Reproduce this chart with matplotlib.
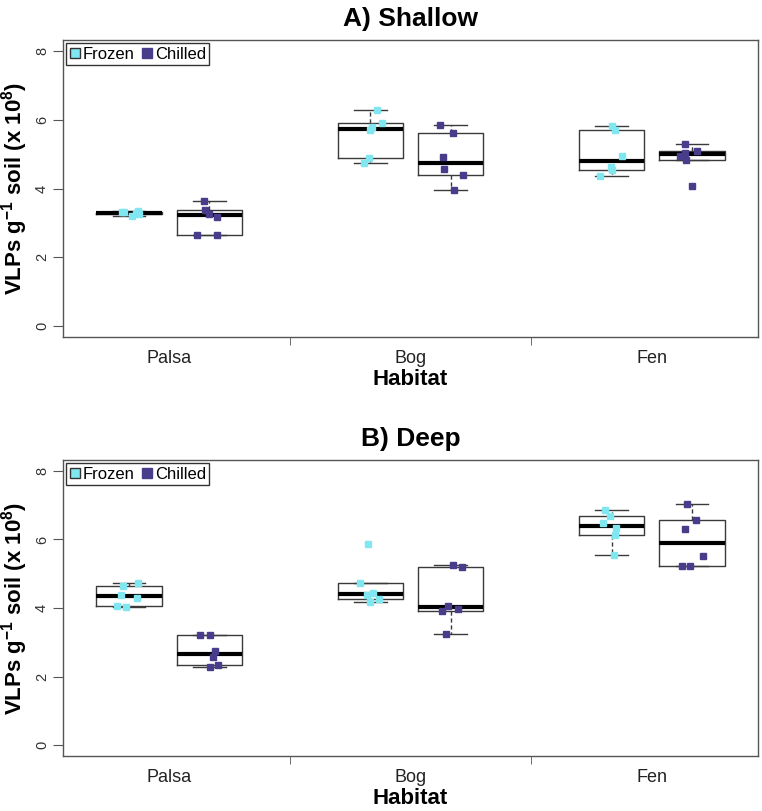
import numpy as np
import matplotlib
matplotlib.use("Agg")
import matplotlib.pyplot as plt
from matplotlib.lines import Line2D

plt.rcParams['font.family'] = ['Liberation Sans', 'DejaVu Sans']
plt.rcParams['mathtext.fontset'] = 'custom'
plt.rcParams['mathtext.bf'] = 'Liberation Sans:bold'
plt.rcParams['mathtext.rm'] = 'Liberation Sans'

habitats = ["Palsa", "Bog", "Fen"]
treatments = ["Frozen", "Chilled"]

# Shallow (A) values, VLPs g-1 soil (x 10^8)
shallow_palsa_frozen = [3.21, 3.25, 3.28, 3.31, 3.33, 3.36]
shallow_palsa_chilled = [2.64, 2.66, 3.18, 3.25, 3.38, 3.65]
shallow_bog_frozen = [4.75, 4.89, 5.70, 5.78, 5.92, 6.28]
shallow_bog_chilled = [3.96, 4.38, 4.56, 4.93, 5.62, 5.86]
shallow_fen_frozen = [4.36, 4.55, 4.63, 4.95, 5.71, 5.81]
shallow_fen_chilled = [4.07, 4.82, 4.95, 5.03, 5.09, 5.30]

# Deep (B) values
deep_palsa_frozen = [4.03, 4.06, 4.29, 4.39, 4.65, 4.72]
deep_palsa_chilled = [2.27, 2.35, 2.57, 2.74, 3.20, 3.21]
deep_bog_frozen = [4.17, 4.25, 4.38, 4.44, 4.74, 5.87]
deep_bog_chilled = [3.23, 3.91, 3.98, 4.06, 5.21, 5.26]
deep_fen_frozen = [5.56, 6.12, 6.33, 6.47, 6.70, 6.86]
deep_fen_chilled = [5.24, 5.24, 5.52, 6.30, 6.57, 7.03]

panels = [
    ("A) Shallow", [[shallow_palsa_frozen, shallow_palsa_chilled],
                    [shallow_bog_frozen, shallow_bog_chilled],
                    [shallow_fen_frozen, shallow_fen_chilled]]),
    ("B) Deep", [[deep_palsa_frozen, deep_palsa_chilled],
                 [deep_bog_frozen, deep_bog_chilled],
                 [deep_fen_frozen, deep_fen_chilled]]),
]

yticks = [0, 2, 4, 6, 8]
colors = {"Frozen": "#80e6f0", "Chilled": "#483d8b"}


def tukey_stats(vals):
    x = np.sort(np.asarray(vals, dtype=float))
    n = len(x)
    n4 = np.floor((n + 3) / 2) / 2
    d = np.array([1, n4, (n + 1) / 2, n + 1 - n4, n])
    f = 0.5 * (x[np.floor(d).astype(int) - 1] + x[np.ceil(d).astype(int) - 1])
    q1, med, q3 = f[1], f[2], f[3]
    iqr = q3 - q1
    lo = x[x >= q1 - 1.5 * iqr].min()
    hi = x[x <= q3 + 1.5 * iqr].max()
    return dict(med=med, q1=q1, q3=q3, whislo=lo, whishi=hi, fliers=[])


fig = plt.figure(figsize=(7.62, 8.11), dpi=100)
axes_rects = [
    [63 / 762, 1 - 337 / 811, (758 - 63) / 762, (337 - 40) / 811],
    [63 / 762, 1 - 756 / 811, (758 - 63) / 762, (756 - 460) / 811],
]
rng = np.random.default_rng(7)
offsets = [-1 / 6, 1 / 6]
frame_col = "#555555"

for (title, data), rect in zip(panels, axes_rects):
    ax = fig.add_axes(rect)
    for gi, group in enumerate(data):
        for ti, vals in enumerate(group):
            pos = gi + 1 + offsets[ti]
            st = tukey_stats(vals)
            ax.bxp([st], positions=[pos], widths=0.27, showfliers=False,
                   manage_ticks=False,
                   boxprops=dict(color="#3a3a3a", lw=1.0),
                   whiskerprops=dict(color="#3a3a3a", lw=1.0, linestyle=(0, (3, 2))),
                   capprops=dict(color="#3a3a3a", lw=1.0),
                   medianprops=dict(color="black", lw=3.0))
            jit = rng.uniform(-0.05, 0.05, len(vals))
            ax.plot(pos + jit, vals, linestyle="none", marker="s", ms=4.6,
                    color=colors[treatments[ti]], mec=colors[treatments[ti]],
                    zorder=5)
    ax.set_xlim(0.56, 3.44)
    ax.set_ylim(-0.32, 8.32)
    ax.set_yticks(yticks)
    ax.set_yticklabels([str(t) for t in yticks], fontsize=10.5, color="#333333")
    for lab in ax.get_yticklabels():
        lab.set_rotation(90)
        lab.set_va("center")
    ax.tick_params(axis="y", length=7, color=frame_col, pad=3)
    ax.set_xticks([1, 2, 3])
    ax.set_xticklabels(habitats, fontsize=13, color="#222222")
    ax.tick_params(axis="x", which="major", length=0, pad=9)
    ax.set_xticks([1.5, 2.5], minor=True)
    ax.tick_params(axis="x", which="minor", length=6, color=frame_col)
    for s in ax.spines.values():
        s.set_color(frame_col)
        s.set_linewidth(1.0)
    ax.set_title(title, fontsize=19, fontweight="bold", pad=10)
    ax.set_xlabel("Habitat", fontsize=16, fontweight="bold", labelpad=2)
    ax.set_ylabel(r"VLPs g$^{\mathbf{-1}}$ soil (x 10$^{\mathbf{8}}$)",
                  fontsize=16, fontweight="bold", labelpad=4)
    handles = [
        Line2D([], [], linestyle="none", marker="s", ms=7,
               mfc=colors["Frozen"], mec="#333333", mew=1.0),
        Line2D([], [], linestyle="none", marker="s", ms=7,
               mfc=colors["Chilled"], mec=colors["Chilled"]),
    ]
    leg = ax.legend(handles, treatments, loc="upper left", ncol=2,
                    fontsize=12, handlelength=0.6, handletextpad=0.15,
                    columnspacing=0.5, borderpad=0.2, borderaxespad=0.2,
                    fancybox=False, framealpha=1, edgecolor="#333333")
    leg.get_frame().set_linewidth(1.0)

fig.savefig("out.png", dpi=100)
